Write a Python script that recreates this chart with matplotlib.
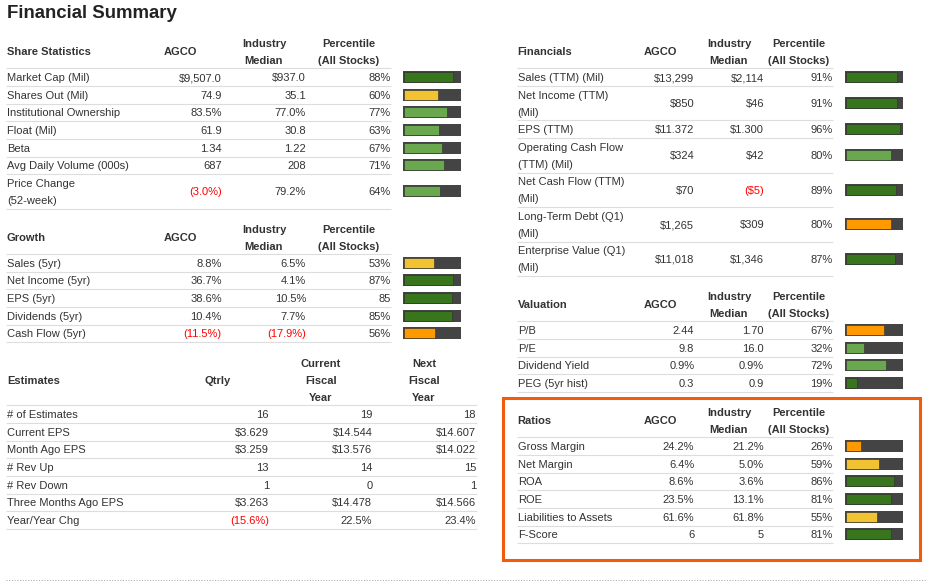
import matplotlib
matplotlib.use("Agg")
import matplotlib.pyplot as plt
from matplotlib.patches import Rectangle

plt.rcParams['font.family'] = ['Liberation Sans', 'DejaVu Sans']

# ---------------- data ----------------
title = "Financial Summary"
col_heads = ["AGCO", "Industry\nMedian", "Percentile\n(All Stocks)"]

share_labels = ["Market Cap (Mil)", "Shares Out (Mil)", "Institutional Ownership",
                "Float (Mil)", "Beta", "Avg Daily Volume (000s)", "Price Change\n(52-week)"]
share_agco = ["$9,507.0", "74.9", "83.5%", "61.9", "1.34", "687", "(3.0%)"]
share_median = ["$937.0", "35.1", "77.0%", "30.8", "1.22", "208", "79.2%"]
share_pct_txt = ["88%", "60%", "77%", "63%", "67%", "71%", "64%"]
share_pct = [88, 60, 77, 63, 67, 71, 64]
share_rating = ["dark", "yellow", "light", "light", "light", "light", "light"]

growth_labels = ["Sales (5yr)", "Net Income (5yr)", "EPS (5yr)", "Dividends (5yr)", "Cash Flow (5yr)"]
growth_agco = ["8.8%", "36.7%", "38.6%", "10.4%", "(11.5%)"]
growth_median = ["6.5%", "4.1%", "10.5%", "7.7%", "(17.9%)"]
growth_pct_txt = ["53%", "87%", "85", "85%", "56%"]
growth_pct = [53, 87, 85, 85, 56]
growth_rating = ["yellow", "dark", "dark", "dark", "orange"]

est_heads = ["Qtrly", "Current\nFiscal\nYear", "Next\nFiscal\nYear"]
est_labels = ["# of Estimates", "Current EPS", "Month Ago EPS", "# Rev Up", "# Rev Down",
              "Three Months Ago EPS", "Year/Year Chg"]
est_qtrly = ["16", "$3.629", "$3.259", "13", "1", "$3.263", "(15.6%)"]
est_current = ["19", "$14.544", "$13.576", "14", "0", "$14.478", "22.5%"]
est_next = ["18", "$14.607", "$14.022", "15", "1", "$14.566", "23.4%"]

fin_labels = ["Sales (TTM) (Mil)", "Net Income (TTM)\n(Mil)", "EPS (TTM)",
              "Operating Cash Flow\n(TTM) (Mil)", "Net Cash Flow (TTM)\n(Mil)",
              "Long-Term Debt (Q1)\n(Mil)", "Enterprise Value (Q1)\n(Mil)"]
fin_agco = ["$13,299", "$850", "$11.372", "$324", "$70", "$1,265", "$11,018"]
fin_median = ["$2,114", "$46", "$1.300", "$42", "($5)", "$309", "$1,346"]
fin_pct_txt = ["91%", "91%", "96%", "80%", "89%", "80%", "87%"]
fin_pct = [91, 91, 96, 80, 89, 80, 87]
fin_rating = ["dark", "dark", "dark", "light", "dark", "orange", "dark"]

val_labels = ["P/B", "P/E", "Dividend Yield", "PEG (5yr hist)"]
val_agco = ["2.44", "9.8", "0.9%", "0.3"]
val_median = ["1.70", "16.0", "0.9%", "0.9"]
val_pct_txt = ["67%", "32%", "72%", "19%"]
val_pct = [67, 32, 72, 19]
val_rating = ["orange", "light", "light", "dark"]

rat_labels = ["Gross Margin", "Net Margin", "ROA", "ROE", "Liabilities to Assets", "F-Score"]
rat_agco = ["24.2%", "6.4%", "8.6%", "23.5%", "61.6%", "6"]
rat_median = ["21.2%", "5.0%", "3.6%", "13.1%", "61.8%", "5"]
rat_pct_txt = ["26%", "59%", "86%", "81%", "55%", "81%"]
rat_pct = [26, 59, 86, 81, 55, 81]
rat_rating = ["orange", "yellow", "dark", "dark", "yellow", "dark"]

# ---------------- style ----------------
TXT = "#333333"
RED = "#ff0000"
GRID = "#dddddd"
TRACK = "#444444"
COLORS = {"dark": "#38761d", "light": "#6aa84f", "yellow": "#f1c232", "orange": "#ff9900"}
FS = 8.0
SINGLE, DOUBLE = 17.65, 34.5
HEAD_STEP = 16.8

fig = plt.figure(figsize=(9.27, 5.81), dpi=100)
ax = fig.add_axes([0, 0, 1, 1])
ax.set_xlim(0, 927)
ax.set_ylim(581, 0)
ax.axis('off')


def txt(x, y, s, ha='left', bold=False, color=TXT, fs=FS):
    ax.text(x, y + 4, s, ha=ha, va='baseline', fontsize=fs,
            fontweight='bold' if bold else 'normal', color=color)


def hline(y, x0, x1, color=GRID, lw=0.8, ls='-'):
    ax.plot([x0, x1], [y, y], color=color, lw=lw, ls=ls, solid_capstyle='butt')


def section(label_x, head_line, name, heads, head_cx, value_rx, labels, columns,
            line_x0, line_x1, pct=None, rating=None, bar_x=None):
    # headers, vertically centred in the header band
    nmax = max(len(h.split("\n")) for h in heads)
    mid = head_line - 8.5 - (nmax - 1) * HEAD_STEP / 2
    for h, cx in zip(heads, head_cx):
        parts = h.split("\n")
        n = len(parts)
        for k, p in enumerate(parts):
            txt(cx, mid + (k - (n - 1) / 2) * HEAD_STEP, p, ha='center', bold=True)
    txt(label_x, mid, name, bold=True)
    hline(head_line, line_x0, line_x1)
    top = head_line
    for i, lab in enumerate(labels):
        parts = lab.split("\n")
        h = SINGLE if len(parts) == 1 else DOUBLE
        cy = top + h / 2
        if len(parts) == 1:
            txt(label_x, cy, lab)
        else:
            txt(label_x, cy - 8.5, parts[0])
            txt(label_x, cy + 8.5, parts[1])
        for col, rx in zip(columns, value_rx):
            v = col[i]
            txt(rx, cy, v, ha='right', color=RED if v.startswith("(") else TXT)
        if pct is not None:
            x0, x1 = bar_x
            bh = 12
            ax.add_patch(Rectangle((x0, cy - bh / 2), x1 - x0, bh,
                                   facecolor=TRACK, edgecolor='none'))
            inner = (x1 - x0) - 2
            ax.add_patch(Rectangle((x0 + 1, cy - bh / 2 + 1), inner * pct[i] / 100.0, bh - 2,
                                   facecolor=COLORS[rating[i]], edgecolor='#2e2e2e', lw=0.4))
        top += h
        hline(top, line_x0, line_x1)


ax.text(7, 18.5, title, ha='left', va='baseline', fontsize=13.4, fontweight='bold', color="#222222")

L_cx = [180, 264, 348.7]
L_rx = [221.7, 306, 390.7]
R_cx = [660, 729, 798.7]
R_rx = [694.3, 764, 832.7]

section(7, 68.3, "Share Statistics", col_heads, L_cx, L_rx, share_labels,
        [share_agco, share_median, share_pct_txt], 6, 391, share_pct, share_rating, (403.3, 461))
section(7, 254.0, "Growth", col_heads, L_cx, L_rx, growth_labels,
        [growth_agco, growth_median, growth_pct_txt], 6, 391, growth_pct, growth_rating, (403.3, 461))
section(7, 405.3, "Estimates", est_heads, [217.7, 321, 424], [269, 372.3, 476], est_labels,
        [est_qtrly, est_current, est_next], 6, 477)

section(517.7, 68.3, "Financials", col_heads, R_cx, R_rx, fin_labels,
        [fin_agco, fin_median, fin_pct_txt], 517, 833, fin_pct, fin_rating, (845, 903))
section(517.7, 321.3, "Valuation", col_heads, R_cx, R_rx, val_labels,
        [val_agco, val_median, val_pct_txt], 517, 833, val_pct, val_rating, (845, 903))
section(517.7, 437.3, "Ratios", col_heads, R_cx, R_rx, rat_labels,
        [rat_agco, rat_median, rat_pct_txt], 517, 833, rat_pct, rat_rating, (845, 903))

# highlight box around Ratios
ax.add_patch(Rectangle((503.5, 398), 417, 162, facecolor='none', edgecolor='#f35b0c', lw=2.2))

# dotted footer line
hline(580.3, 6, 927, color='#aaaaaa', lw=0.75, ls=(0, (1, 1.6)))

fig.savefig("out.png", dpi=100)
